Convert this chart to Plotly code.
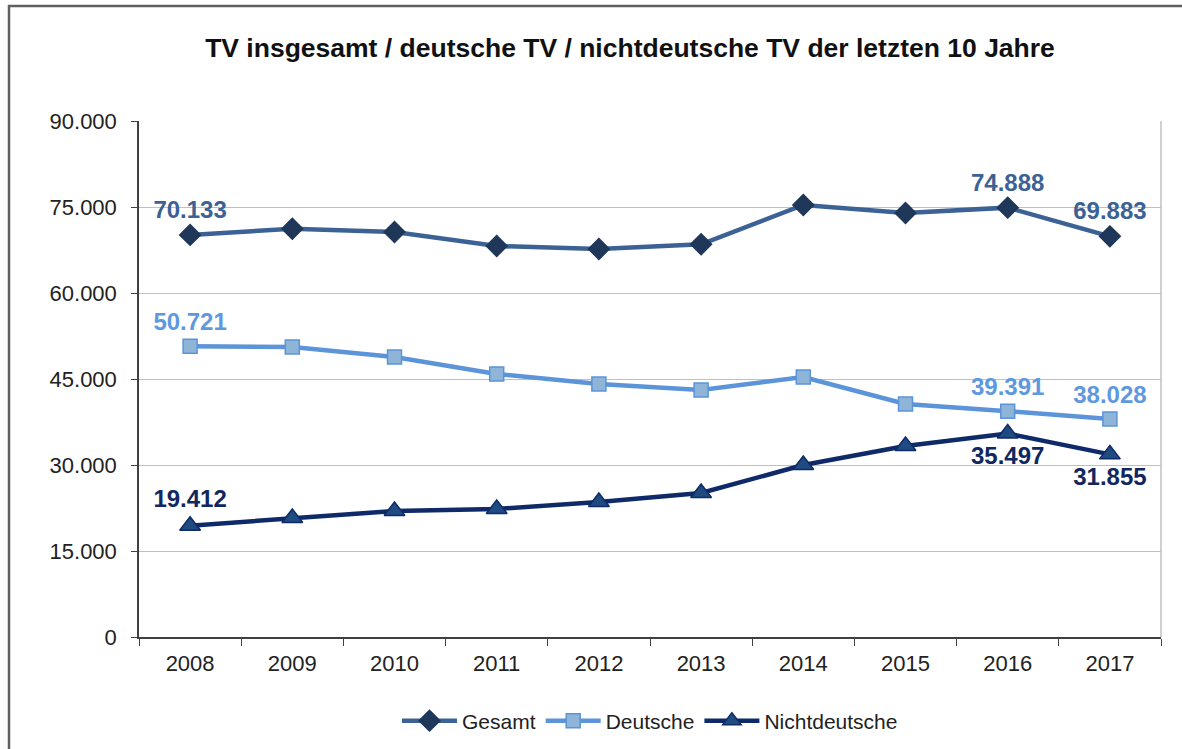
import plotly.graph_objects as go

years = ["2008", "2009", "2010", "2011", "2012", "2013", "2014", "2015", "2016", "2017"]
gesamt = [70133, 71200, 70650, 68200, 67680, 68500, 75350, 73950, 74888, 69883]
deutsche = [50721, 50580, 48840, 45870, 44130, 43080, 45350, 40640, 39391, 38028]
nichtdeutsche = [19412, 20760, 21980, 22330, 23550, 25120, 30000, 33310, 35497, 31855]
labelled = {"2008", "2016", "2017"}

y_ticks = [0, 15000, 30000, 45000, 60000, 75000, 90000]

FONT = "Liberation Sans, Arial, sans-serif"


def fmt(v):
    return f"{v:,}".replace(",", ".")


def labels(values):
    return [fmt(v) if y in labelled else "" for y, v in zip(years, values)]


series = [
    ("Gesamt", gesamt, "#3C6295", "#1F3759", "#1F3759", "diamond", 16, "#3C6295",
     ["top center"] * 10),
    ("Deutsche", deutsche, "#5B94D8", "#8EB4D8", "#5B94D8", "square", 14, "#5E98DE",
     ["top center"] * 10),
    ("Nichtdeutsche", nichtdeutsche, "#0F2A68", "#1F4B80", "#0F2A68", "triangle-up", 18, "#10285F",
     ["top center"] + ["bottom center"] * 9),
]

fig = go.Figure()
for name, vals, lc, mfill, mline, sym, size, tc, tpos in series:
    fig.add_trace(go.Scatter(
        x=years, y=vals, name=name, mode="lines+markers+text",
        line=dict(color=lc, width=4.5),
        marker=dict(symbol=sym, size=size, color=mfill, line=dict(color=mline, width=1.5)),
        text=labels(vals), textposition=tpos,
        textfont=dict(family=FONT, size=24, color=tc, weight="bold"),
        cliponaxis=False,
    ))

fig.update_layout(
    width=1182, height=749,
    margin=dict(l=139, r=21, t=121, b=112),
    paper_bgcolor="white", plot_bgcolor="white",
    font=dict(family=FONT, size=22, color="#222222"),
    title=dict(
        text="<b>TV insgesamt / deutsche TV / nichtdeutsche TV der letzten 10 Jahre</b>",
        x=(630 - 139) / 1022, xref="paper", xanchor="center",
        y=1 - 48 / 749, yref="container", yanchor="middle",
        font=dict(size=26.5, color="#111111"),
    ),
    xaxis=dict(
        type="category", range=[-0.5, len(years) - 0.5],
        showgrid=False, showline=True, linecolor="#404040", linewidth=1.5,
        ticks="outside", tickson="boundaries", ticklen=7, tickcolor="#404040",
        ticklabelstandoff=6,
    ),
    yaxis=dict(
        range=[0, 90000], tickvals=y_ticks, ticktext=[fmt(v) for v in y_ticks],
        showgrid=True, gridcolor="#C0C0C0", gridwidth=1.2, zeroline=False,
        showline=True, linecolor="#404040", linewidth=1.5,
        ticks="outside", ticklen=6, tickcolor="#404040", ticklabelstandoff=10,
    ),
    legend=dict(
        orientation="h", x=0.5, xanchor="center", xref="paper",
        y=1 - 721 / 749, yref="container", yanchor="middle",
        font=dict(size=21), traceorder="normal", itemwidth=55,
    ),
    showlegend=True,
)

# right border of plot area
fig.add_shape(type="line", xref="paper", yref="paper", x0=1, x1=1, y0=0, y1=1,
              line=dict(color="#C0C0C0", width=1.5))
# outer chart frame
fig.add_shape(type="rect", xref="paper", yref="paper",
              x0=(9 - 139) / 1022, x1=1.05, y0=-0.3, y1=(637 - 6) / 516,
              line=dict(color="#606060", width=2.5), layer="below")

fig.write_html("out.html", config={"displayModeBar": False},
               post_script="document.body.style.margin='0px';")
